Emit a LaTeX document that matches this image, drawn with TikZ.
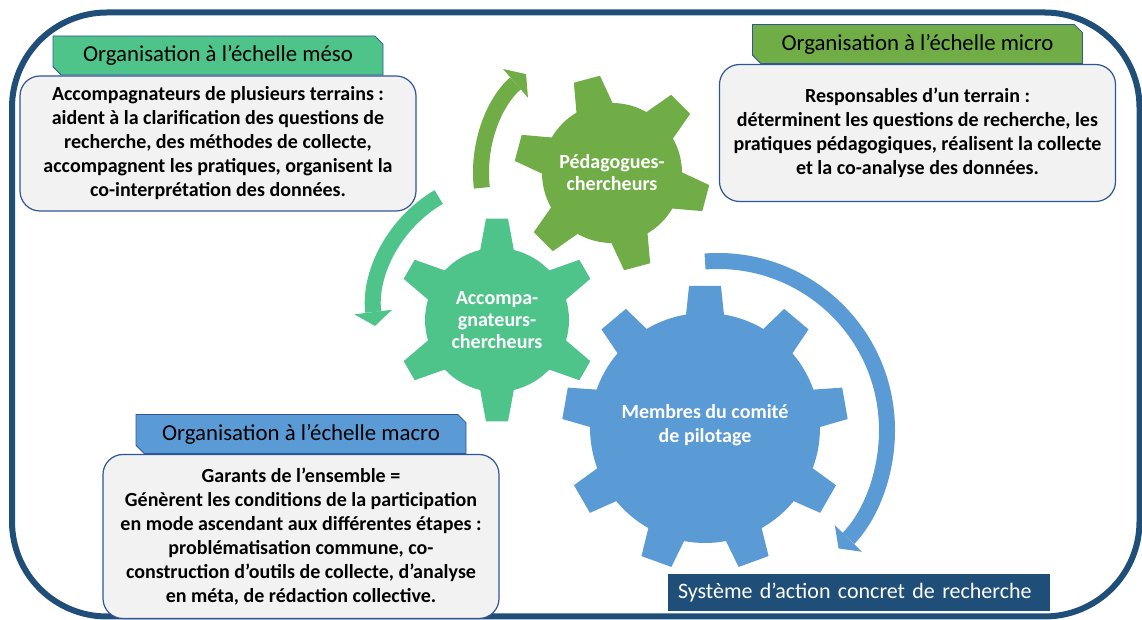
\documentclass[tikz,border=0pt]{standalone}
\usepackage{fontspec}
\setmainfont{Carlito}
\usetikzlibrary{positioning,calc,shapes.misc,arrows.meta}
\definecolor{navy}{HTML}{1F4E79}
\definecolor{edgeblue}{HTML}{2F5597}
\definecolor{mesogreen}{HTML}{4EC48B}
\definecolor{microgreen}{HTML}{70AD47}
\definecolor{macroblue}{HTML}{5B9BD5}
\definecolor{boxgray}{HTML}{F2F2F2}
\tikzset{>=latex,
  tabbox/.style={chamfered rectangle, chamfered rectangle corners={north east,south west},
    chamfered rectangle xsep=5pt, draw=edgeblue, line width=0.8pt, minimum width=330pt,
    minimum height=39pt, inner sep=0pt, font=\fontsize{22.8}{26}\selectfont},
  bodybox/.style={rectangle, rounded corners=20pt, draw=edgeblue, line width=1.2pt, fill=boxgray,
    minimum width=396pt, inner sep=0pt, align=center, font=\bfseries\fontsize{20}{24}\selectfont},
  gearlabel/.style={text=white, align=center, font=\bfseries\fontsize{20}{22}\selectfont},
  cyclearrow/.style={line width=16pt, -{Triangle[width=38pt,length=14pt,line width=0pt]}}
}
% centre, teeth, body radius, tip radius, first tooth, tip half angle, base half angle, colour
\newcommand{\gearfill}[8]{%
  \pgfmathsetmacro{\gstep}{360/#2}
  \begin{scope}[shift={(#1)}]
    \fill[#8] (#5+\gstep-#7:#3)
      \foreach \k in {1,...,#2} {
        -- (#5+\k*\gstep-#6:#4) -- (#5+\k*\gstep+#6:#4) -- (#5+\k*\gstep+#7:#3)
        arc[start angle=#5+\k*\gstep+#7, delta angle=\gstep-2*#7, radius=#3]
      } -- cycle;
  \end{scope}
}

\begin{document}
\begin{tikzpicture}[x=1pt,y=1pt]
  \useasboundingbox (0,0) rectangle (1142,620);

  % Frame
  \draw[navy, line width=6pt, rounded corners=95pt] (12,3.5) rectangle (1139.5,607.5);

  % Gears
  \coordinate (accC)   at (497,300);
  \coordinate (pedC)   at (612,447);
  \coordinate (copilC) at (705,192);
  \coordinate (accTurn)   at ($(accC)+(8,10)$);
  \coordinate (copilTurn) at ($(copilC)+(13,-2)$);
  \gearfill{accC}{6}{72}{102}{90}{6.2}{13.5}{mesogreen}
  \gearfill{pedC}{6}{70}{98}{105}{7.9}{15.5}{microgreen}
  \gearfill{copilC}{9}{115}{143}{90}{6.4}{9.5}{macroblue}
  \node[gearlabel] (acc)   at (accC)   {Accompa-\\gnateurs-\\chercheurs};
  \node[gearlabel] (ped)   at (pedC)   {Pédagogues-\\chercheurs};
  \node[gearlabel, font=\bfseries\fontsize{20}{24}\selectfont] (copil) at ($(copilC)+(0,3)$)
    {Membres du comité\\de pilotage};

  % Arrows
  \draw[cyclearrow, microgreen] (pedC) ++(186.5:131) arc[start angle=186.5, end angle=131, radius=131];
  \draw[cyclearrow, mesogreen] (accTurn) ++(120.4:131) arc[start angle=120.4, end angle=187, radius=131];
  \draw[cyclearrow, macroblue] (copilTurn) ++(94.4:169) arc[start angle=94.4, end angle=-44.5, radius=169];

  % Boxes
  \node[tabbox, fill=mesogreen] (mesoTab) at (218,564.5) {Organisation à l’échelle méso};
  \node[bodybox, minimum height=135pt, below=0pt of mesoTab] (mesoBody)
    {Accompagnateurs de plusieurs terrains :\\aident à la clarification des questions de\\
     recherche, des méthodes de collecte,\\accompagnent les pratiques, organisent la\\
     co-interprétation des données.};
  \node[tabbox, fill=microgreen] (microTab) at (917.5,576) {Organisation à l’échelle micro};
  \node[bodybox, minimum height=137pt, below=0pt of microTab] (microBody)
    {Responsables d’un terrain :\\déterminent les questions de recherche, les\\
     pratiques pédagogiques, réalisent la collecte\\et la co-analyse des données.};
  \node[tabbox, fill=macroblue] (macroTab) at (301,186) {Organisation à l’échelle macro};
  \node[bodybox, minimum height=164pt, below=0pt of macroTab] (macroBody)
    {Garants de l’ensemble =\\Génèrent les conditions de la participation\\
     en mode ascendant aux différentes étapes :\\problématisation commune, co-\\
     construction d’outils de collecte, d’analyse\\en méta, de rédaction collective.};

  % Label
  \node[fill=navy, text=white, text width=362pt, inner xsep=10pt, minimum height=37pt, align=left,
    font=\fontsize{22}{26}\selectfont] (sac) at (859,27.5) {Système d’action concret de recherche};
\end{tikzpicture}
\end{document}
